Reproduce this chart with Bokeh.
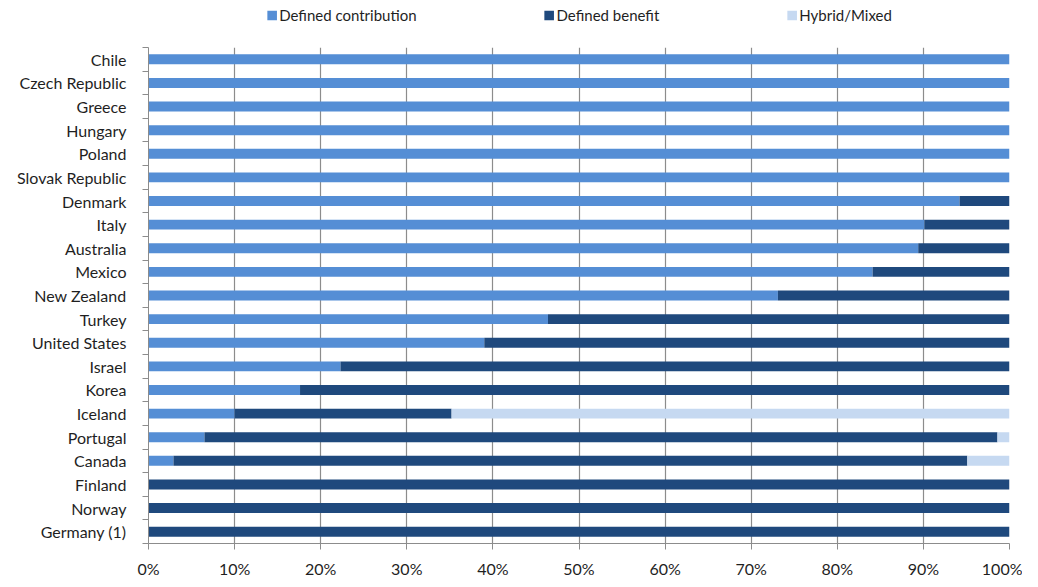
from bokeh.plotting import figure
from bokeh.models import Range1d, FixedTicker, Legend, LegendItem
from bokeh.layouts import column
from bokeh.embed import file_html
from bokeh.resources import INLINE

countries = ["Chile", "Czech Republic", "Greece", "Hungary", "Poland", "Slovak Republic",
             "Denmark", "Italy", "Australia", "Mexico", "New Zealand", "Turkey",
             "United States", "Israel", "Korea", "Iceland", "Portugal", "Canada",
             "Finland", "Norway", "Germany (1)"]
defined_contribution = [100, 100, 100, 100, 100, 100, 94.2, 90.1, 89.4, 84.1, 73.1, 46.4,
                        39.0, 22.3, 17.6, 10.0, 6.5, 2.9, 0, 0, 0]
defined_benefit = [0, 0, 0, 0, 0, 0, 5.8, 9.9, 10.6, 15.9, 26.9, 53.6,
                   61.0, 77.7, 82.4, 25.2, 92.1, 92.2, 100, 100, 100]
hybrid_mixed = [0, 0, 0, 0, 0, 0, 0, 0, 0, 0, 0, 0, 0, 0, 0, 64.8, 1.4, 4.9, 0, 0, 0]
series_names = ["Defined contribution", "Defined benefit", "Hybrid/Mixed"]
x_ticks = [0, 10, 20, 30, 40, 50, 60, 70, 80, 90, 100]

C_DC = "#558ED5"
C_DB = "#1F497D"
C_HY = "#C6D9F1"
colors = [C_DC, C_DB, C_HY]
FONT = "Lato"
TXT = "#1f1f1f"

n = len(countries)
ypos = [n - 1 - i for i in range(n)]
dc_end = list(defined_contribution)
db_end = [a + b for a, b in zip(defined_contribution, defined_benefit)]
hy_end = [a + b for a, b in zip(db_end, hybrid_mixed)]

# ---- legend strip (zero-area proxy glyphs only carry the legend swatches) ----
lg = figure(width=1022, height=30, output_backend="svg", toolbar_location=None,
            x_range=Range1d(0, 1), y_range=Range1d(0, 1),
            min_border_left=136, min_border_right=13, min_border_top=0, min_border_bottom=0)
lg.axis.visible = False
lg.grid.visible = False
lg.outline_line_color = None
items = []
for name, col in zip(series_names, colors):
    r = lg.quad(left=[0], right=[0], top=[0], bottom=[0], fill_color=col, line_color=None)
    items.append(LegendItem(label=name, renderers=[r]))
legend = Legend(items=items, orientation="horizontal", location="center", spacing=126,
                glyph_width=12, glyph_height=12, label_standoff=2,
                label_text_font=FONT, label_text_font_size="15px", label_text_color=TXT,
                border_line_color=None, background_fill_alpha=0, padding=0, margin=0)
lg.add_layout(legend, "center")

# ---- main chart ----
p = figure(width=1022, height=550, output_backend="svg", toolbar_location=None,
           x_range=Range1d(0, 100), y_range=Range1d(-0.5, n - 0.5),
           min_border_left=148, min_border_right=13, min_border_top=17, min_border_bottom=33)
p.outline_line_color = None
p.background_fill_color = "white"

h = 0.42
p.hbar(y=ypos, left=[0] * n, right=dc_end, height=h, fill_color=C_DC, line_color=None)
p.hbar(y=ypos, left=dc_end, right=db_end, height=h, fill_color=C_DB, line_color=None)
p.hbar(y=ypos, left=db_end, right=hy_end, height=h, fill_color=C_HY, line_color=None)

p.xaxis.ticker = FixedTicker(ticks=x_ticks)
p.xaxis.major_label_overrides = {t: f"{t}%" for t in x_ticks}
p.xaxis.axis_line_color = "#8c8c8c"
p.xaxis.major_tick_line_color = "#8c8c8c"
p.xaxis.major_tick_out = 6
p.xaxis.major_tick_in = 0
p.xaxis.minor_tick_line_color = None
p.xaxis.major_label_standoff = 9
p.xaxis.major_label_text_font = FONT
p.xaxis.major_label_text_font_size = "16px"
p.xaxis.major_label_text_color = TXT

p.xgrid.ticker = FixedTicker(ticks=x_ticks)
p.xgrid.grid_line_color = "#8c8c8c"
p.xgrid.grid_line_width = 1.2
p.ygrid.grid_line_color = None

p.yaxis.ticker = FixedTicker(ticks=ypos, minor_ticks=[y + 0.5 for y in range(-1, n)])
p.yaxis.major_label_overrides = {y: c for y, c in zip(ypos, countries)}
p.yaxis.axis_line_color = "#8c8c8c"
p.yaxis.major_tick_line_color = None
p.yaxis.minor_tick_line_color = "#8c8c8c"
p.yaxis.minor_tick_out = 6
p.yaxis.minor_tick_in = 0
p.yaxis.major_label_standoff = 16
p.yaxis.major_label_text_font = FONT
p.yaxis.major_label_text_font_size = "16px"
p.yaxis.major_label_text_color = TXT

layout = column(lg, p, spacing=0)
open("out.html", "w").write(file_html(layout, INLINE))
